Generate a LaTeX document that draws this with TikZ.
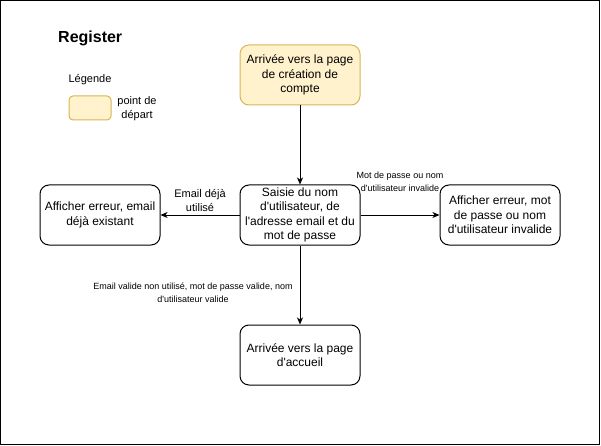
\documentclass[tikz,border=0pt]{standalone}
\usepackage{fontspec}
\setmainfont{Liberation Sans}[Ligatures=TeXOff]
\usetikzlibrary{arrows.meta}
\definecolor{startfill}{HTML}{FFF2CC}
\definecolor{startdraw}{HTML}{D6B656}
\begin{document}
\begin{tikzpicture}[x=1pt,y=-1pt,
  box/.style={draw=black,line width=1pt,rounded corners=9pt,minimum width=120pt,minimum height=60pt,align=center,font=\fontsize{12}{14.5}\selectfont,inner sep=0pt},
  startbox/.style={box,fill=startfill,draw=startdraw},
  conn/.style={line width=1pt,-{Stealth[length=7pt,width=6pt,inset=2pt]}},
  lbl/.style={align=center,font=\fontsize{11}{14}\selectfont,inner sep=0pt},
  small/.style={align=center,font=\fontsize{9}{13}\selectfont,inner sep=0pt}]
\useasboundingbox (0,0) rectangle (601,446);
\draw[line width=1pt] (0.5,0.5) rectangle (599.5,444.5);
\node[anchor=west,font=\bfseries\fontsize{16}{18}\selectfont,inner sep=0pt] (title) at (58,38) {Register};
\node[lbl] (legend) at (90,80) {Légende};
\node[startbox,minimum width=42pt,minimum height=24pt,rounded corners=4pt] (legbox) at (90,108) {};
\node[lbl] (legtext) at (137,108.5) {point de\\départ};
\node[startbox] (start) at (300,75) {Arrivée vers la page\\de création de\\compte};
\node[box] (saisie) at (300,215) {Saisie du nom\\d'utilisateur, de\\l'adresse email et du\\mot de passe};
\node[box] (errmail) at (100,215) {Afficher erreur, email\\déjà existant};
\node[box] (errmdp) at (500,215) {Afficher erreur, mot\\de passe ou nom\\d'utilisateur invalide};
\node[box] (accueil) at (300,355) {Arrivée vers la page\\d'accueil};
\draw[conn] (start) -- (saisie);
\draw[conn] (saisie) -- (errmail);
\draw[conn] (saisie) -- (errmdp);
\draw[conn] (saisie) -- (accueil);
\node[lbl] (l1) at (200,201) {Email déjà\\utilisé};
\node[small] (l2) at (400,181.5) {Mot de passe ou nom\\d'utilisateur invalide};
\node[small] (l3) at (193,292.5) {Email valide non utilisé, mot de passe valide, nom\\d'utilisateur valide};
\end{tikzpicture}
\end{document}
